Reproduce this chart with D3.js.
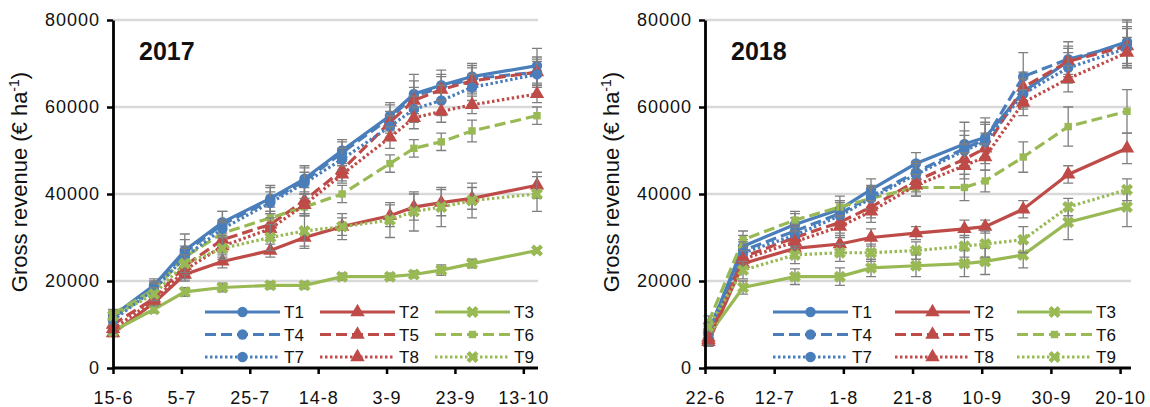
<!DOCTYPE html>
<html lang="en">
<head>
    <meta charset="UTF-8">
    <title>Gross revenue 2017 / 2018</title>
    <script src="https://d3js.org/d3.v7.min.js"></script>
    <style>
        body { margin: 0; background: #fff; }
        text { font-family: "Liberation Sans", Arial, sans-serif; fill: #111; }
        .tick text { font-size: 18px; letter-spacing: 1px; }
        .grid line { stroke: #d9d9d9; stroke-width: 2.5px; }
        .errbar { stroke: #7f7f7f; stroke-width: 1.3px; fill: none; }
    </style>
</head>
<body>
<svg width="1150" height="407"></svg>
<script>
// sampling dates
const dates2017 = ["2017-06-15","2017-06-27","2017-07-06","2017-07-17","2017-07-31","2017-08-10",
                   "2017-08-21","2017-09-04","2017-09-11","2017-09-19","2017-09-28","2017-10-17"];
const dates2018 = ["2018-06-23","2018-07-03","2018-07-18","2018-07-31","2018-08-09","2018-08-22",
                   "2018-09-05","2018-09-11","2018-09-22","2018-10-05","2018-10-22"];

const ticks2017 = ["2017-06-15","2017-07-05","2017-07-25","2017-08-14","2017-09-03","2017-09-23","2017-10-13"];
const ticks2018 = ["2018-06-22","2018-07-12","2018-08-01","2018-08-21","2018-09-10","2018-09-30","2018-10-20"];
const yTicks = [0, 20000, 40000, 60000, 80000];

const treatments = ["T1","T2","T3","T4","T5","T6","T7","T8","T9"];

// 2017 gross revenue (€/ha) and error
const rev2017_T1 = [12000,19000,27000,33500,39000,43500,50000,58000,63000,65000,67000,69500];
const rev2017_T2 = [8000,15000,21500,24500,27000,30000,32500,35000,37000,38000,39000,42000];
const rev2017_T3 = [8500,13500,17500,18500,19000,19000,21000,21000,21500,22500,24000,27000];
const rev2017_T4 = [11500,18500,26500,33000,38500,43000,49500,57500,62500,64500,66500,68000];
const rev2017_T5 = [10000,16000,23500,29500,33000,38500,45500,56500,61500,64000,66000,68000];
const rev2017_T6 = [12500,18000,25500,31000,34500,37000,40000,47000,50500,52000,54500,58000];
const rev2017_T7 = [11000,18000,25500,32000,38000,42500,48000,55500,59500,61500,64500,67500];
const rev2017_T8 = [9000,15500,22500,28000,32000,37500,44500,53000,57500,59000,60500,63000];
const rev2017_T9 = [12000,17000,24000,27500,30000,31500,32500,34000,36000,37000,38500,40000];

const err2017_T1 = [1000,1500,3800,2500,3000,3000,2500,3000,4500,3500,3000,4000];
const err2017_T2 = [800,1000,1500,1500,1500,2000,2000,2500,3000,3000,2500,3000];
const err2017_T3 = [800,800,1000,1000,800,800,800,800,800,1200,1000,600];
const err2017_T4 = [1000,1500,3000,3000,3000,3000,2500,3000,3500,3000,3000,3500];
const err2017_T5 = [1000,1200,2000,3000,3000,3000,2500,2500,3000,3000,3000,3000];
const err2017_T6 = [1000,1500,2000,2500,2500,2000,2000,2000,2000,2000,2500,2000];
const err2017_T7 = [1000,1500,2500,2000,2500,2500,2500,2500,3000,3500,3000,3000];
const err2017_T8 = [1000,1200,2000,2500,2500,2500,2000,2500,2500,2500,2000,2000];
const err2017_T9 = [1000,1500,2000,2500,3000,4000,3000,4000,4500,4500,4000,4000];

// 2018 gross revenue (€/ha) and error
const rev2018_T1 = [8000,28000,33000,36500,41000,47000,51500,53000,63500,70500,75000];
const rev2018_T2 = [6000,24000,27500,28500,30000,31000,32000,32500,36500,44500,50500];
const rev2018_T3 = [7500,18500,21000,21000,23000,23500,24000,24500,26000,33500,37000];
const rev2018_T4 = [8500,27000,31500,35500,39500,45000,50500,52500,67000,71000,74500];
const rev2018_T5 = [7000,25500,30000,33500,37000,43000,48000,50500,64500,70500,74000];
const rev2018_T6 = [10500,29500,34000,37000,39000,41500,41500,43000,48500,55500,59000];
const rev2018_T7 = [7500,26500,30500,35000,39000,44500,50000,52000,63000,69000,73500];
const rev2018_T8 = [6500,25000,29000,32500,36000,42000,46500,48500,61000,66500,72500];
const rev2018_T9 = [9500,22500,26000,26500,26500,27000,28000,28500,29500,37000,41000];

const err2018_T1 = [1500,2500,3000,3000,2500,2500,5000,4500,3500,3000,5000];
const err2018_T2 = [1000,2000,2000,2000,2000,1500,2000,1500,2000,2000,3500];
const err2018_T3 = [1000,1500,1800,2000,2000,2500,3000,3000,3000,4000,4500];
const err2018_T4 = [1500,2500,3000,3000,2500,2500,4000,4000,5500,4000,5000];
const err2018_T5 = [1500,2500,2500,2500,2500,2500,3500,3500,3500,3500,4500];
const err2018_T6 = [1500,2000,1500,1500,2500,2000,3000,2500,3500,4500,5000];
const err2018_T7 = [1500,2500,2500,3000,2500,2500,3500,4000,3500,3500,4500];
const err2018_T8 = [1500,2000,2500,2500,2500,2500,3000,3000,3000,3000,3500];
const err2018_T9 = [1000,2000,2000,2000,2000,2000,2500,3000,3000,2000,2500];

const rev2017 = [rev2017_T1,rev2017_T2,rev2017_T3,rev2017_T4,rev2017_T5,rev2017_T6,rev2017_T7,rev2017_T8,rev2017_T9];
const err2017 = [err2017_T1,err2017_T2,err2017_T3,err2017_T4,err2017_T5,err2017_T6,err2017_T7,err2017_T8,err2017_T9];
const rev2018 = [rev2018_T1,rev2018_T2,rev2018_T3,rev2018_T4,rev2018_T5,rev2018_T6,rev2018_T7,rev2018_T8,rev2018_T9];
const err2018 = [err2018_T1,err2018_T2,err2018_T3,err2018_T4,err2018_T5,err2018_T6,err2018_T7,err2018_T8,err2018_T9];

// styles: colour by column, dash by row
const colors = ["#4a7ebb", "#be4b48", "#98b954"];
const dashes = [null, "11,5", "2.5,2.5"];
const markerTypes = [d3.symbolCircle, d3.symbolTriangle, d3.symbolCross];

const parse = d3.utcParse("%Y-%m-%d");
const svg = d3.select("svg");

const panels = [
    {year: "2017", dates: dates2017, ticks: ticks2017, rev: rev2017, err: err2017,
     left: 113, right: 537, gridEnd: 538, yTitleX: 27, legendX: [205, 320, 435]},
    {year: "2018", dates: dates2018, ticks: ticks2018, rev: rev2018, err: err2018,
     left: 705, right: 1127, gridEnd: 1131, yTitleX: 619, legendX: [773, 895, 1017]}
];

const plotTop = 20, plotBottom = 368;

function styleOf(i) {
    const col = i % 3, row = Math.floor(i / 3);
    let type = markerTypes[col];
    let size = col === 0 ? 85 : 90;
    if (col === 2 && row === 1) { type = d3.symbolSquare; size = 55; }
    return {color: colors[col], dash: dashes[row], type: type, size: size,
            rotate: (col === 2 && type === d3.symbolCross) ? 45 : 0};
}

panels.forEach(p => {
    const dts = p.dates.map(parse);
    // x axis starts on the first tick date, ends at the last sampling date
    const x = d3.scaleUtc()
        .domain([parse(p.ticks[0]), dts[dts.length - 1]])
        .range([p.left, p.right]);
    const y = d3.scaleLinear().domain([0, 80000]).range([plotBottom, plotTop]);

    // gridlines
    svg.append("g").attr("class", "grid")
        .selectAll("line").data(yTicks.slice(1)).join("line")
        .attr("x1", p.left).attr("x2", p.gridEnd)
        .attr("y1", d => y(d)).attr("y2", d => y(d));

    // series
    const g = svg.append("g");
    p.rev.forEach((vals, i) => {
        const st = styleOf(i);
        const pts = vals.map((v, k) => ({d: dts[k], v: v, e: p.err[i][k]}));

        const eb = g.append("g").attr("class", "errbar");
        pts.forEach(o => {
            const xx = x(o.d), y0 = y(o.v - o.e), y1 = y(o.v + o.e);
            eb.append("path").attr("d",
                `M${xx},${y0}V${y1}M${xx - 5},${y0}H${xx + 5}M${xx - 5},${y1}H${xx + 5}`);
        });

        g.append("path").datum(pts)
            .attr("fill", "none")
            .attr("stroke", st.color)
            .attr("stroke-width", 3.2)
            .attr("stroke-dasharray", st.dash)
            .attr("d", d3.line().x(o => x(o.d)).y(o => y(o.v)));

        g.selectAll(null).data(pts).join("path")
            .attr("transform", o => `translate(${x(o.d)},${y(o.v)}) rotate(${st.rotate})`)
            .attr("d", d3.symbol().type(st.type).size(st.size))
            .attr("fill", st.color);
    });

    // axes
    const yAxis = svg.append("g")
        .attr("transform", `translate(${p.left},0)`)
        .call(d3.axisLeft(y).tickValues(yTicks).tickFormat(d3.format("d"))
            .tickSize(6).tickSizeOuter(0).tickPadding(7));
    const xAxis = svg.append("g")
        .attr("transform", `translate(0,${plotBottom})`)
        .call(d3.axisBottom(x).tickValues(p.ticks.map(parse)).tickFormat(d3.utcFormat("%-d-%-m"))
            .tickSize(6).tickSizeOuter(0).tickPadding(17));
    xAxis.select(".domain").attr("d", `M${p.left},0H${p.gridEnd}`);
    [yAxis, xAxis].forEach(a => {
        a.select(".domain").attr("stroke", "#000").attr("stroke-width", 2.8);
        a.selectAll(".tick line").attr("stroke", "#000").attr("stroke-width", 2.5);
        a.selectAll(".tick text").attr("fill", "#111");
    });

    // y title
    const yt = svg.append("text")
        .attr("transform", `translate(${p.yTitleX},182) rotate(-90)`)
        .attr("text-anchor", "middle")
        .style("font-size", "22px");
    yt.append("tspan").text("Gross revenue (€ ha");
    yt.append("tspan").attr("dy", -8).style("font-size", "14px").text("-1");
    yt.append("tspan").attr("dy", 8).text(")");

    // year label
    svg.append("text")
        .attr("x", p.left + 26).attr("y", 60)
        .style("font-size", "25px").style("font-weight", "bold")
        .text(p.year);

    // legend
    const rowsY = [312, 334.5, 357];
    treatments.forEach((t, i) => {
        const st = styleOf(i);
        const lx = p.legendX[i % 3], ly = rowsY[Math.floor(i / 3)];
        const lg = svg.append("g");
        lg.append("line")
            .attr("x1", lx).attr("x2", lx + 75).attr("y1", ly).attr("y2", ly)
            .attr("stroke", st.color).attr("stroke-width", 3.2)
            .attr("stroke-dasharray", st.dash);
        lg.append("path")
            .attr("transform", `translate(${lx + 37.5},${ly}) rotate(${st.rotate})`)
            .attr("d", d3.symbol().type(st.type).size(st.size))
            .attr("fill", st.color);
        lg.append("text")
            .attr("x", lx + 79).attr("y", ly + 6)
            .style("font-size", "17px")
            .text(t);
    });
});
</script>
</body>
</html>
